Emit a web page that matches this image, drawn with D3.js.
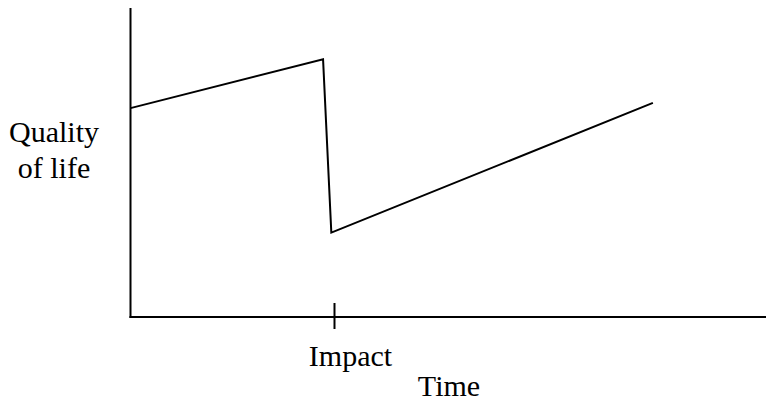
<!DOCTYPE html>
<html>
<head>
<meta charset="utf-8">
<script src="https://cdn.jsdelivr.net/npm/d3@7/dist/d3.min.js"></script>
<style>
  html, body { margin: 0; padding: 0; background: #fff; }
</style>
</head>
<body>
<svg id="chart" width="766" height="402"></svg>
<script>
// Data (arbitrary units)
const times = [0, 3.03, 3.16, 8.22];
const quality = [67.6, 83.4, 27.3, 69.3];
const impactTime = [3.21];
const impactLabels = ["Impact"];
const xTitle = "Time";
const yTitleLines = ["Quality", "of life"];

const FONT = "'Liberation Serif', 'Times New Roman', Times, serif";

const svg = d3.select("#chart");
const x = d3.scaleLinear().domain([0, 10]).range([130.5, 766]);
const y = d3.scaleLinear().domain([0, 100]).range([317, 8]);

// Axes lines
svg.append("line")
  .attr("x1", x(0)).attr("x2", x(0))
  .attr("y1", y(0) + 1).attr("y2", y(100))
  .attr("stroke", "#000").attr("stroke-width", 2);
svg.append("line")
  .attr("x1", x(0) - 1).attr("x2", x(10))
  .attr("y1", y(0)).attr("y2", y(0))
  .attr("stroke", "#000").attr("stroke-width", 2);

// Impact tick
svg.selectAll(".tick").data(impactTime).enter().append("line")
  .attr("class", "tick")
  .attr("x1", d => x(d)).attr("x2", d => x(d))
  .attr("y1", y(0) - 14).attr("y2", y(0) + 12)
  .attr("stroke", "#000").attr("stroke-width", 2);

svg.selectAll(".ticklabel").data(impactTime).enter().append("text")
  .attr("class", "ticklabel")
  .attr("x", d => x(d) + 16)
  .attr("y", 366)
  .attr("text-anchor", "middle")
  .style("font-family", FONT)
  .attr("font-size", 30)
  .attr("fill", "#000")
  .text((d, i) => impactLabels[i]);

// Data line
const pts = times.map((t, i) => [t, quality[i]]);
svg.append("path")
  .datum(pts)
  .attr("fill", "none")
  .attr("stroke", "#000")
  .attr("stroke-width", 2)
  .attr("stroke-linejoin", "miter")
  .attr("d", d3.line().x(d => x(d[0])).y(d => y(d[1])));

// Axis titles
svg.append("text")
  .attr("x", 449).attr("y", 396)
  .attr("text-anchor", "middle")
  .style("font-family", FONT)
  .attr("font-size", 30)
  .attr("fill", "#000")
  .text(xTitle);

const yt = svg.append("text")
  .attr("text-anchor", "middle")
  .style("font-family", FONT)
  .attr("font-size", 30)
  .attr("fill", "#000");
yTitleLines.forEach((s, i) => {
  yt.append("tspan").attr("x", 54).attr("y", 142 + i * 36).text(s);
});
</script>
</body>
</html>
